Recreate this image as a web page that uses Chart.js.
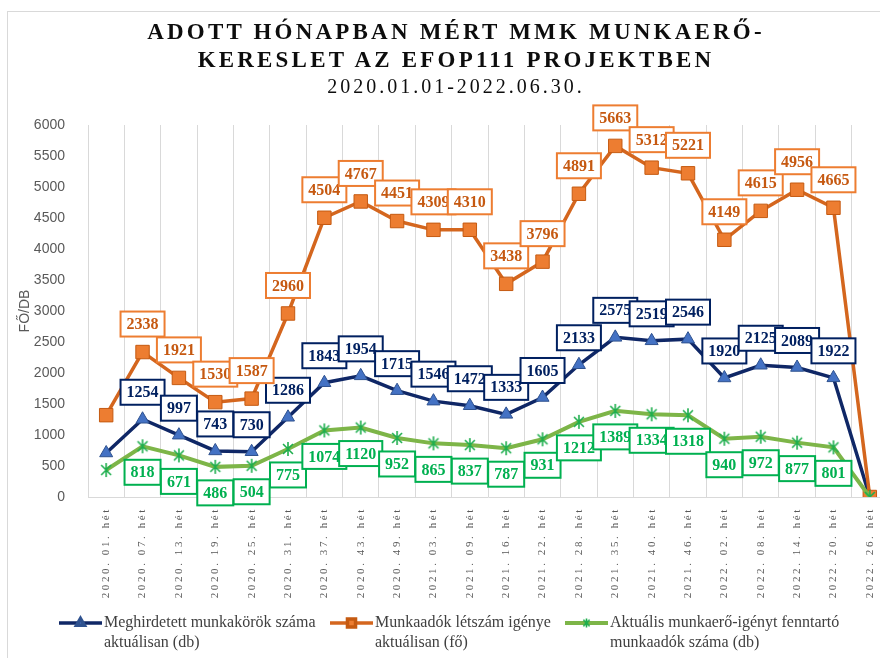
<!DOCTYPE html>
<html lang="hu">
<head>
<meta charset="utf-8">
<title>MMK munkaerő-kereslet</title>
<script src="https://cdn.jsdelivr.net/npm/chart.js@4.4.1/dist/chart.umd.min.js"></script>
<style>
html, body { margin: 0; padding: 0; background: #fff; overflow: hidden; width: 880px; height: 658px; }
#keret { position: absolute; left: 7px; top: 11px; width: 900px; height: 700px; border: 1px solid #D9D9D9; }
#cim { position: absolute; left: 0; top: 18px; width: 912px; text-align: center; font-family: 'Liberation Serif', 'Times New Roman', serif; color: #0d0d0d; }
#cim .f { font-weight: bold; font-size: 23px; letter-spacing: 3.2px; line-height: 28px; }
#cim .a { font-size: 20px; letter-spacing: 3px; line-height: 24px; }
#abra { position: absolute; left: 0; top: 0; }
</style>
</head>
<body>
<div id="keret"></div>
<canvas id="abra" width="900" height="658"></canvas>
<div id="cim">
    <div class="f">ADOTT HÓNAPBAN MÉRT MMK MUNKAERŐ-</div>
    <div class="f">KERESLET AZ EFOP111 PROJEKTBEN</div>
    <div class="a">2020.01.01-2022.06.30.</div>
</div>
<script>
// ---- adatok ----
const hetek = [
    '2020. 01. hét', '2020. 07. hét', '2020. 13. hét', '2020. 19. hét', '2020. 25. hét',
    '2020. 31. hét', '2020. 37. hét', '2020. 43. hét', '2020. 49. hét', '2021. 03. hét',
    '2021. 09. hét', '2021. 16. hét', '2021. 22. hét', '2021. 28. hét', '2021. 35. hét',
    '2021. 40. hét', '2021. 46. hét', '2022. 02. hét', '2022. 08. hét', '2022. 14. hét',
    '2022. 20. hét', '2022. 26. hét'
];
const meghirdetett = [710, 1254, 997, 743, 730, 1286, 1843, 1954, 1715, 1546, 1472, 1333, 1605, 2133, 2575, 2519, 2546, 1920, 2125, 2089, 1922, 0];
const letszamIgeny = [1320, 2338, 1921, 1530, 1587, 2960, 4504, 4767, 4451, 4309, 4310, 3438, 3796, 4891, 5663, 5312, 5221, 4149, 4615, 4956, 4665, 0];
const munkaadok = [435, 818, 671, 486, 504, 775, 1074, 1120, 952, 865, 837, 787, 931, 1212, 1389, 1334, 1318, 940, 972, 877, 801, 0];
const yTickek = [0, 500, 1000, 1500, 2000, 2500, 3000, 3500, 4000, 4500, 5000, 5500, 6000];

const jelmagyarazat = [
    ['Meghirdetett munkakörök száma', 'aktuálisan (db)'],
    ['Munkaadók létszám igénye', 'aktuálisan (fő)'],
    ['Aktuális munkaerő-igényt fenntartó', 'munkaadók száma (db)']
];

// csillag jelölő (Excel-szerű *)
function csillag(meret, szin) {
    const c = document.createElement('canvas');
    c.width = c.height = meret;
    const g = c.getContext('2d');
    const m = meret / 2, r = meret / 2 - 1;
    g.strokeStyle = szin;
    g.lineWidth = 1.6;
    g.beginPath();
    [Math.PI / 2, Math.PI / 4, 3 * Math.PI / 4].forEach(a => {
        g.moveTo(m + r * Math.cos(a), m + r * Math.sin(a));
        g.lineTo(m - r * Math.cos(a), m - r * Math.sin(a));
    });
    g.stroke();
    return c;
}
const csillagJel = csillag(16, '#1EAE4E');
const csillagKicsi = csillag(11, '#1EAE4E');

// ---- adatcímkék dobozban ----
const cimkePlugin = {
    id: 'cimkek',
    afterDatasetsDraw(chart) {
        const ctx = chart.ctx;
        ctx.save();
        ctx.font = 'bold 16px "Liberation Serif", "Times New Roman", serif';
        ctx.textAlign = 'center';
        ctx.textBaseline = 'middle';
        chart.data.datasets.forEach((ds, di) => {
            const meta = chart.getDatasetMeta(di);
            meta.data.forEach((pt, i) => {
                if (i === 0 || ds.data[i] === 0) return;
                const txt = String(ds.data[i]);
                const w = ctx.measureText(txt).width + 12, h = 25;
                const cy = pt.y + ds.cimkeEltolas;
                ctx.fillStyle = '#fff';
                ctx.fillRect(pt.x - w / 2, cy - h / 2, w, h);
                ctx.lineWidth = 2;
                ctx.strokeStyle = ds.cimkeKeret;
                ctx.strokeRect(pt.x - w / 2, cy - h / 2, w, h);
                ctx.fillStyle = ds.cimkeSzin;
                ctx.fillText(txt, pt.x, cy + 1);
            });
        });
        ctx.restore();
    }
};

// ---- x feliratok (ritkított betűk), y tengelycím, jelmagyarázat ----
const keretPlugin = {
    id: 'keretSzovegek',
    afterDraw(chart) {
        const ctx = chart.ctx;
        const x = chart.scales.x;
        ctx.save();
        ctx.fillStyle = '#595959';
        ctx.font = '11px "Liberation Serif", "Times New Roman", serif';
        ctx.letterSpacing = '2.6px';
        ctx.textAlign = 'right';
        ctx.textBaseline = 'middle';
        hetek.forEach((h, i) => {
            ctx.save();
            ctx.translate(x.getPixelForValue(i), chart.chartArea.bottom + 10);
            ctx.rotate(-Math.PI / 2);
            ctx.fillText(h, 0, 0);
            ctx.restore();
        });
        ctx.letterSpacing = '0px';

        // y tengely címe
        ctx.save();
        ctx.translate(25, 311);
        ctx.rotate(-Math.PI / 2);
        ctx.textAlign = 'center';
        ctx.font = '14px "Liberation Sans", Arial, sans-serif';
        ctx.fillText('FŐ/DB', 0, 0);
        ctx.restore();

        // jelmagyarázat
        const kezd = [59, 330, 565];
        ctx.font = '16px "Liberation Serif", "Times New Roman", serif';
        ctx.textAlign = 'left';
        chart.data.datasets.forEach((ds, di) => {
            const x0 = kezd[di], y0 = 623;
            ctx.strokeStyle = ds.borderColor;
            ctx.lineWidth = ds.borderWidth;
            ctx.beginPath();
            ctx.moveTo(x0, y0);
            ctx.lineTo(x0 + 43, y0);
            ctx.stroke();
            ctx.fillStyle = ds.pointBackgroundColor || '#fff';
            ctx.strokeStyle = ds.pointBorderColor || ds.borderColor;
            Chart.helpers.drawPoint(ctx, {
                pointStyle: ds.legendStyle || ds.pointStyle,
                radius: ds.pointRadius * 0.6,
                borderWidth: ds.pointBorderWidth || 1
            }, x0 + 21.5, y0);
            ctx.fillStyle = '#404040';
            jelmagyarazat[di].forEach((sor, k) => ctx.fillText(sor, x0 + 45, y0 + k * 20));
        });
        ctx.restore();
    }
};

new Chart(document.getElementById('abra').getContext('2d'), {
    type: 'line',
    data: {
        labels: hetek,
        datasets: [
            {
                label: jelmagyarazat[0].join(' '),
                data: meghirdetett,
                borderColor: '#0F2766',
                borderWidth: 3.5,
                pointStyle: 'triangle',
                pointRadius: 7.5,
                pointBackgroundColor: '#4472C4',
                pointBorderColor: '#2F528F',
                pointBorderWidth: 1,
                order: 3,
                cimkeSzin: '#002060', cimkeKeret: '#002060', cimkeEltolas: -27
            },
            {
                label: jelmagyarazat[1].join(' '),
                data: letszamIgeny,
                borderColor: '#D4661E',
                borderWidth: 3.5,
                pointStyle: 'rect',
                pointRadius: 9.5,
                pointBackgroundColor: '#ED7D31',
                pointBorderColor: '#C55A11',
                pointBorderWidth: 1,
                order: 2,
                cimkeSzin: '#C65911', cimkeKeret: '#ED7D31', cimkeEltolas: -28
            },
            {
                label: jelmagyarazat[2].join(' '),
                data: munkaadok,
                borderColor: '#7DB548',
                borderWidth: 4,
                pointStyle: csillagJel,
                legendStyle: csillagKicsi,
                pointRadius: 8,
                order: 1,
                cimkeSzin: '#00B050', cimkeKeret: '#00B050', cimkeEltolas: 26
            }
        ]
    },
    options: {
        responsive: false,
        animation: false,
        layout: { padding: { left: 0, right: 9, top: 125, bottom: 0 } },
        plugins: { legend: { display: false }, tooltip: { enabled: false } },
        scales: {
            x: {
                offset: true,
                grid: { offset: true, color: '#D9D9D9', drawTicks: false },
                border: { color: '#D9D9D9' },
                ticks: { display: false },
                afterFit(s) { s.height = 161; }
            },
            y: {
                min: 0,
                max: 6000,
                afterBuildTicks(s) { s.ticks = yTickek.map(v => ({ value: v })); },
                ticks: {
                    padding: 15, color: '#595959',
                    font: { family: 'Liberation Sans', size: 14 },
                    callback: v => String(v)
                },
                grid: { display: false },
                border: { display: false },
                afterFit(s) { s.width = 88; }
            }
        }
    },
    plugins: [cimkePlugin, keretPlugin]
});
</script>
</body>
</html>
